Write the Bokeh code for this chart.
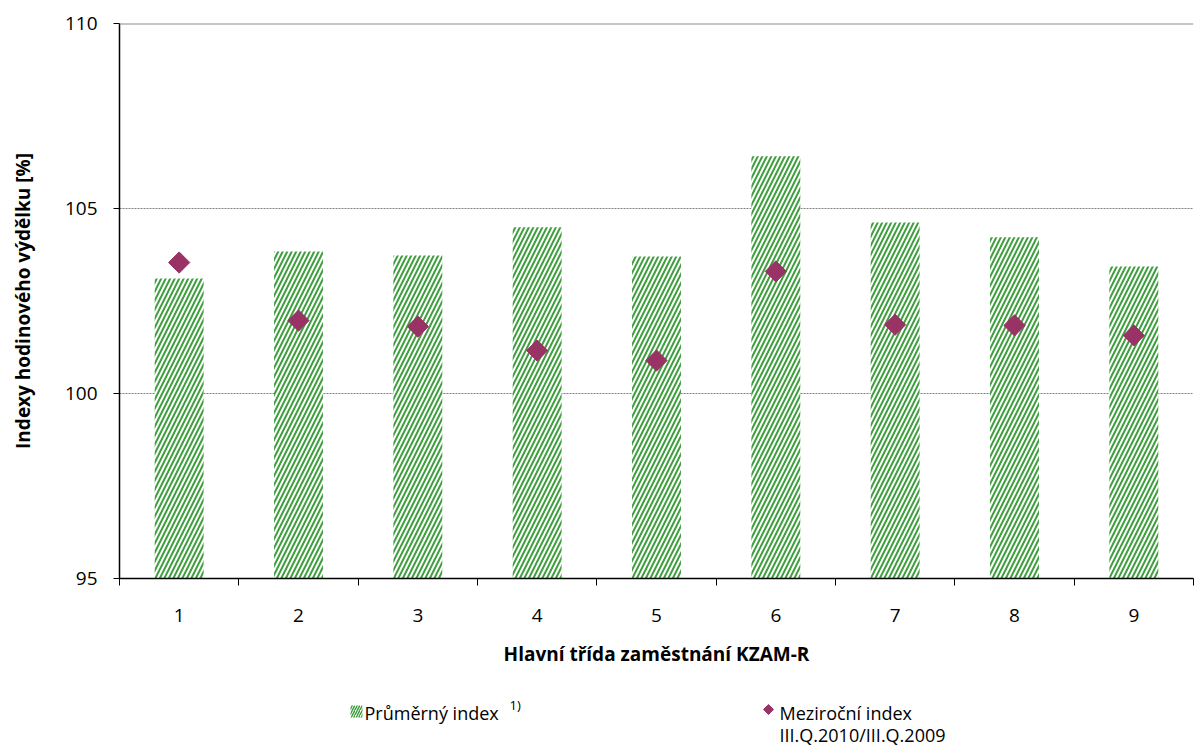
import math
from bokeh.plotting import figure
from bokeh.layouts import column
from bokeh.models import Range1d, FixedTicker, Span, ColumnDataSource
from bokeh.core.properties import value
from bokeh.embed import file_html
from bokeh.resources import INLINE

categories = [1, 2, 3, 4, 5, 6, 7, 8, 9]
prumerny = [103.11, 103.84, 103.73, 104.49, 103.70, 106.41, 104.62, 104.22, 103.43]
mezirocni = [103.54, 101.97, 101.81, 101.16, 100.89, 103.30, 101.86, 101.84, 101.57]
y_ticks = [95, 100, 105, 110]
legend_labels = ["Průměrný index", "Meziroční index", "III.Q.2010/III.Q.2009"]
footnote = "1)"

FONT = "Open Sans"
GREEN = "#3f9f3f"
PLUM = "#993366"

W = 1195
H_MAIN = 690
H_LEG = 57
LEFT = 119
RIGHT = 2

p = figure(width=W, height=H_MAIN, output_backend="svg", toolbar_location=None,
           x_range=Range1d(0.5, 9.5), y_range=Range1d(95, 110),
           min_border_left=LEFT, min_border_top=23, min_border_right=RIGHT,
           min_border_bottom=H_MAIN - 578)
p.outline_line_color = None
p.background_fill_color = "white"

src = ColumnDataSource(dict(x=categories, top=prumerny, mid=mezirocni))
p.vbar(x="x", top="top", bottom=95, width=0.41, source=src,
       fill_color="white", line_color=None,
       hatch_pattern="/", hatch_color=GREEN, hatch_weight=2, hatch_scale=9)
p.scatter(x="x", y="mid", source=src, marker="square", size=15, angle=math.pi / 4,
          fill_color=PLUM, line_color=PLUM)

# grid
p.xgrid.visible = False
p.ygrid.ticker = FixedTicker(ticks=[100, 105])
p.ygrid.grid_line_color = "#808080"
p.ygrid.grid_line_dash = "2 1"
p.ygrid.grid_line_width = 1
p.add_layout(Span(location=110, dimension="width", line_color="#8c8c8c", line_width=2))

# y axis
p.yaxis.ticker = FixedTicker(ticks=y_ticks)
p.yaxis.axis_line_color = "black"
p.yaxis.axis_line_width = 1.5
p.yaxis.major_tick_in = 0
p.yaxis.major_tick_out = 6
p.yaxis.minor_tick_out = 0
p.yaxis.minor_tick_in = 0
p.yaxis.major_label_text_font = FONT
p.yaxis.major_label_text_font_size = "19px"
p.yaxis.major_label_text_color = "black"
p.yaxis.major_label_standoff = 16
p.yaxis.axis_label = "Indexy hodinového výdělku [%]"
p.yaxis.axis_label_text_font = FONT
p.yaxis.axis_label_text_font_size = "19px"
p.yaxis.axis_label_text_font_style = "bold"
p.yaxis.axis_label_text_color = "black"
p.yaxis.axis_label_standoff = 26

# x axis
p.xaxis.ticker = FixedTicker(ticks=categories,
                             minor_ticks=[c - 0.5 for c in categories] + [9.5])
p.xaxis.axis_line_color = "black"
p.xaxis.axis_line_width = 1.5
p.xaxis.major_tick_in = 0
p.xaxis.major_tick_out = 0
p.xaxis.minor_tick_in = 0
p.xaxis.minor_tick_out = 7
p.xaxis.minor_tick_line_color = "black"
p.xaxis.major_label_text_font = FONT
p.xaxis.major_label_text_font_size = "19px"
p.xaxis.major_label_text_color = "black"
p.xaxis.major_label_standoff = 23
p.xaxis.axis_label = "Hlavní třída zaměstnání KZAM-R"
p.xaxis.axis_label_text_font = FONT
p.xaxis.axis_label_text_font_size = "19px"
p.xaxis.axis_label_text_font_style = "bold"
p.xaxis.axis_label_text_color = "black"
p.xaxis.axis_label_standoff = 16

# legend strip (page pixel coordinates; frame aligned with the main plot)
lg = figure(width=W, height=H_LEG, output_backend="svg", toolbar_location=None,
            x_range=Range1d(LEFT, W - RIGHT), y_range=Range1d(H_MAIN + H_LEG, H_MAIN),
            min_border_left=LEFT, min_border_right=RIGHT, min_border_top=0,
            min_border_bottom=0)
lg.axis.visible = False
lg.grid.visible = False
lg.outline_line_color = None
lg.rect(x=[356], y=[711], width=12, height=12, fill_color="white", line_color=None,
        hatch_pattern="/", hatch_color=GREEN, hatch_weight=1.5, hatch_scale=5)
lg.text(x=[364], y=[712], text=[legend_labels[0]], text_font=value(FONT),
        text_font_size="18px", text_baseline="middle", text_color="black")
lg.text(x=[509], y=[704], text=[footnote], text_font=value(FONT),
        text_font_size="13px", text_baseline="middle", text_color="black")
lg.scatter(x=[768], y=[709], marker="square", size=7, angle=math.pi / 4,
           fill_color=PLUM, line_color=PLUM)
lg.text(x=[779, 779], y=[712, 734], text=legend_labels[1:], text_font=value(FONT),
        text_font_size="18px", text_baseline="middle", text_color="black")

layout = column(p, lg, spacing=0)
open("out.html", "w").write(file_html(layout, INLINE))
